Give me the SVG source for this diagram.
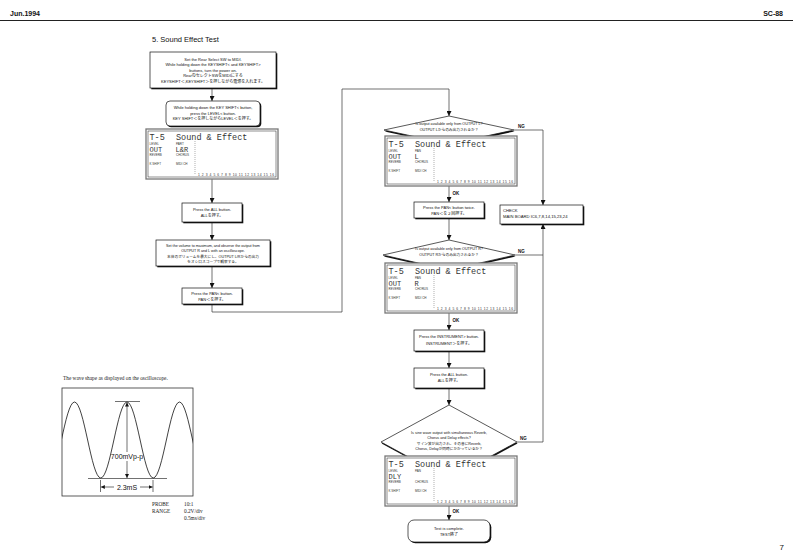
<svg xmlns="http://www.w3.org/2000/svg" width="793" height="560" viewBox="0 0 793 560">
<style>
.t{font-family:"Liberation Sans","Noto Sans CJK JP",sans-serif;font-size:4px;fill:#111;text-anchor:middle}
.ts{font-size:3.7px}
.lcd{font-family:"Liberation Mono","DejaVu Sans Mono",monospace;fill:#333}
.big{font-size:8.5px}
.mid{font-size:7px}
.sm{font-family:"Liberation Sans",sans-serif;font-size:3px;fill:#333}
.num{font-family:"Liberation Sans",sans-serif;font-size:3.3px;fill:#333}
.box{fill:#fff;stroke:#111;stroke-width:0.7}
.sh{fill:#111}
.lo{fill:#fff;stroke:#777;stroke-width:1.3}
.li{fill:none;stroke:#222;stroke-width:0.5}
.dot{stroke:#222;stroke-width:0.6;stroke-dasharray:0.6 1.4}
.c{fill:none;stroke:#333;stroke-width:0.7}
.lbl{font-family:"Liberation Sans",sans-serif;font-weight:bold;font-size:4.5px;fill:#111}
.hd{font-family:"Liberation Sans",sans-serif;font-weight:bold;font-size:7px;fill:#111}
.sf{font-family:"Liberation Serif",serif;font-size:5.3px;fill:#222}
.w{fill:none;stroke:#111;stroke-width:0.8}
</style>
<defs>
<marker id="ah" viewBox="0 0 10 10" refX="10" refY="5" markerWidth="5" markerHeight="5" markerUnits="userSpaceOnUse" orient="auto"><path d="M0,0 L10,5 L0,10 z" fill="#111"/></marker>
<marker id="wa" viewBox="0 0 10 10" refX="10" refY="5" markerWidth="4" markerHeight="4" markerUnits="userSpaceOnUse" orient="auto"><path d="M0,0 L10,5 L0,10 z" fill="#111"/></marker>
<clipPath id="scope"><rect x="62" y="388" width="131" height="108"/></clipPath>
</defs>
<rect width="793" height="560" fill="#fff"/>
<g id="header">
<text class="hd" x="10" y="16">Jun.1994</text>
<text class="hd" x="783" y="16" text-anchor="end">SC-88</text>
<line x1="0" y1="20.5" x2="793" y2="20.5" stroke="#222" stroke-width="1.2"/>
<text x="152" y="42" style="font-family:'Liberation Sans',sans-serif;font-size:7.5px;fill:#111">5. Sound Effect Test</text>
<text class="hd" x="784" y="550" text-anchor="end" style="font-weight:normal;font-size:8px">7</text>
</g>
<g id="connectors">
<path class="c" d="M212,88 V101" marker-end="url(#ah)"/>
<path class="c" d="M212,179 V203" marker-end="url(#ah)"/>
<path class="c" d="M212,222 V240" marker-end="url(#ah)"/>
<path class="c" d="M212,266 V288" marker-end="url(#ah)"/>
<path class="c" d="M212,304 V312 H342 V89 H449 V116" marker-end="url(#ah)"/>
<path class="c" d="M449,186 V202" marker-end="url(#ah)"/>
<path class="c" d="M449,218 V240" marker-end="url(#ah)"/>
<path class="c" d="M449,313 V330" marker-end="url(#ah)"/>
<path class="c" d="M449,351 V368" marker-end="url(#ah)"/>
<path class="c" d="M449,388 V405" marker-end="url(#ah)"/>
<path class="c" d="M449,506 V520" marker-end="url(#ah)"/>
<path class="c" d="M514,130 H543 V205" marker-end="url(#ah)"/>
<path class="c" d="M515,255 H543"/>
<path class="c" d="M517,442 H543 V224" marker-end="url(#ah)"/>
<text class="lbl" x="518" y="128">NG</text>
<text class="lbl" x="518" y="253">NG</text>
<text class="lbl" x="520" y="440">NG</text>
<text class="lbl" x="452.5" y="194.5">OK</text>
<text class="lbl" x="452.5" y="321.5">OK</text>
<text class="lbl" x="452.5" y="513">OK</text>
</g>
<g id="n1">
<rect class="sh" x="151.3" y="53.3" width="126" height="36"/>
<rect class="box" x="150" y="52" width="126" height="36"/>
<text class="t" x="213" y="60.5">Set the Rear Select SW to MIDI.</text>
<text class="t" x="213" y="66">While holding down the KEYSHIFT&lt; and KEYSHIFT&gt;</text>
<text class="t" x="213" y="71.5">buttons, turn the power on.</text>
<text class="t" x="213" y="77">RearのセレクトSWをMIDIにする</text>
<text class="t" x="213" y="82.5">KEYSHIFT＜,KEYSHIFT＞を押しながら電源を入れます。</text>
</g>
<g id="n2">
<rect class="sh" x="167.3" y="102.3" width="94" height="25" rx="4"/>
<rect class="box" x="166" y="101" width="94" height="25" rx="4"/>
<text class="t" x="213" y="109">While holding down the KEY SHIFT&lt; button,</text>
<text class="t" x="213" y="114.5">press the LEVEL&lt; button.</text>
<text class="t" x="213" y="120">KEY SHIFT＜を押しながらLEVEL＜を押す。</text>
</g>
<g id="lcd1" transform="translate(146,129)">
<rect class="lo" x="0" y="0" width="132" height="50"/>
<rect class="li" x="2" y="2" width="128" height="46"/>
<text class="lcd big" x="3.5" y="10.5">T-5</text>
<text class="lcd big" x="30" y="10.5">Sound &amp; Effect</text>
<text class="sm" x="3.5" y="15.8">LEVEL</text>
<text class="sm" x="30" y="15.8">PART</text>
<text class="lcd mid" x="3.5" y="22.8">OUT</text>
<text class="lcd mid" x="29.5" y="22.8">L&amp;R</text>
<text class="sm" x="3.5" y="27.2">REVERB</text>
<text class="sm" x="30" y="27.2">CHORUS</text>
<text class="sm" x="3.5" y="35.5">K SHIFT</text>
<text class="sm" x="30" y="35.5">MIDI CH</text>
<line class="dot" x1="49" y1="12" x2="49" y2="45"/>
<text class="num" x="52" y="47" textLength="76" lengthAdjust="spacing">1 2 3 4 5 6 7 8 9 10 11 12 13 14 15 16</text>
</g>
<g id="n3">
<rect class="sh" x="183.3" y="204.3" width="60" height="19"/>
<rect class="box" x="182" y="203" width="60" height="19"/>
<text class="t" x="212" y="211">Press the ALL button.</text>
<text class="t" x="212" y="217">ALLを押す。</text>
</g>
<g id="n4">
<rect class="sh" x="157.3" y="241.3" width="114" height="26"/>
<rect class="box" x="156" y="240" width="114" height="26"/>
<text class="t ts" x="213" y="246.5">Set the volume to maximum, and observe the output from</text>
<text class="t ts" x="213" y="252">OUTPUT R and L with an oscilloscope.</text>
<text class="t ts" x="213" y="257.5">本体のボリュームを最大にし、OUTPUT L/Rからの出力</text>
<text class="t ts" x="213" y="263">をオシロスコープで観察する。</text>
</g>
<g id="n5">
<rect class="sh" x="183.3" y="289.3" width="60" height="16"/>
<rect class="box" x="182" y="288" width="60" height="16"/>
<text class="t" x="212" y="294.5">Press the PAN&lt; button.</text>
<text class="t" x="212" y="300.5">PAN＜を押す。</text>
</g>
<g id="d1">
<polygon class="sh" points="449,116 514,130 449,144 384,130" transform="translate(0.6,1.4)"/>
<polygon class="box" points="449,116 514,130 449,144 384,130"/>
<text class="t ts" x="449" y="125">Is output available only from OUTPUT L?</text>
<text class="t ts" x="449" y="131">OUTPUT Lからのみ出力されるか？</text>
</g>
<g id="lcd2" transform="translate(385,136)">
<rect class="lo" x="0" y="0" width="132" height="50"/>
<rect class="li" x="2" y="2" width="128" height="46"/>
<text class="lcd big" x="3.5" y="10.5">T-5</text>
<text class="lcd big" x="30" y="10.5">Sound &amp; Effect</text>
<text class="sm" x="3.5" y="15.8">LEVEL</text>
<text class="sm" x="30" y="15.8">PAN</text>
<text class="lcd mid" x="3.5" y="22.8">OUT</text>
<text class="lcd mid" x="29.5" y="22.8">L</text>
<text class="sm" x="3.5" y="27.2">REVERB</text>
<text class="sm" x="30" y="27.2">CHORUS</text>
<text class="sm" x="3.5" y="35.5">K SHIFT</text>
<text class="sm" x="30" y="35.5">MIDI CH</text>
<line class="dot" x1="49" y1="12" x2="49" y2="45"/>
<text class="num" x="52" y="47" textLength="76" lengthAdjust="spacing">1 2 3 4 5 6 7 8 9 10 11 12 13 14 15 16</text>
</g>
<g id="n6">
<rect class="sh" x="415.3" y="203.3" width="70" height="16"/>
<rect class="box" x="414" y="202" width="70" height="16"/>
<text class="t" x="449" y="208.5">Press the PAN&lt; button twice.</text>
<text class="t" x="449" y="214.5">PAN＜を２回押す。</text>
</g>
<g id="d2">
<polygon class="sh" points="449,240 515,255 449,270 383,255" transform="translate(0.6,1.4)"/>
<polygon class="box" points="449,240 515,255 449,270 383,255"/>
<text class="t ts" x="449" y="249.5">Is output available only from OUTPUT R?</text>
<text class="t ts" x="449" y="255.5">OUTPUT Rからのみ出力されるか？</text>
</g>
<g id="lcd3" transform="translate(385,263)">
<rect class="lo" x="0" y="0" width="132" height="50"/>
<rect class="li" x="2" y="2" width="128" height="46"/>
<text class="lcd big" x="3.5" y="10.5">T-5</text>
<text class="lcd big" x="30" y="10.5">Sound &amp; Effect</text>
<text class="sm" x="3.5" y="15.8">LEVEL</text>
<text class="sm" x="30" y="15.8">PAN</text>
<text class="lcd mid" x="3.5" y="22.8">OUT</text>
<text class="lcd mid" x="29.5" y="22.8">R</text>
<text class="sm" x="3.5" y="27.2">REVERB</text>
<text class="sm" x="30" y="27.2">CHORUS</text>
<text class="sm" x="3.5" y="35.5">K SHIFT</text>
<text class="sm" x="30" y="35.5">MIDI CH</text>
<line class="dot" x1="49" y1="12" x2="49" y2="45"/>
<text class="num" x="52" y="47" textLength="76" lengthAdjust="spacing">1 2 3 4 5 6 7 8 9 10 11 12 13 14 15 16</text>
</g>
<g id="n7">
<rect class="sh" x="415.3" y="331.3" width="70" height="21"/>
<rect class="box" x="414" y="330" width="70" height="21"/>
<text class="t" x="449" y="338">Press the INSTRUMENT&gt; button.</text>
<text class="t" x="449" y="344.5">INSTRUMENT＞を押す。</text>
</g>
<g id="n8">
<rect class="sh" x="415.3" y="369.3" width="70" height="20"/>
<rect class="box" x="414" y="368" width="70" height="20"/>
<text class="t" x="449" y="376">Press the ALL button.</text>
<text class="t" x="449" y="382">ALLを押す。</text>
</g>
<g id="d3">
<polygon class="sh" points="449,405 517,442 449,479 381,442" transform="translate(0.6,1.4)"/>
<polygon class="box" points="449,405 517,442 449,479 381,442"/>
<text class="t ts" x="449" y="433.5">Is sine wave output with simultaneous Reverb,</text>
<text class="t ts" x="449" y="439">Chorus and Delay effects?</text>
<text class="t ts" x="449" y="444.5">サイン波が出力され、その音にReverb,</text>
<text class="t ts" x="449" y="450">Chorus, Delayが同時にかかっているか？</text>
</g>
<g id="lcd4" transform="translate(385,456)">
<rect class="lo" x="0" y="0" width="132" height="50"/>
<rect class="li" x="2" y="2" width="128" height="46"/>
<text class="lcd big" x="3.5" y="10.5">T-5</text>
<text class="lcd big" x="30" y="10.5">Sound &amp; Effect</text>
<text class="sm" x="3.5" y="15.8">LEVEL</text>
<text class="sm" x="30" y="15.8">PAN</text>
<text class="lcd mid" x="3.5" y="22.8">DLY</text>
<text class="sm" x="3.5" y="27.2">REVERB</text>
<text class="sm" x="30" y="27.2">CHORUS</text>
<text class="sm" x="3.5" y="35.5">K SHIFT</text>
<text class="sm" x="30" y="35.5">MIDI CH</text>
<line class="dot" x1="49" y1="12" x2="49" y2="45"/>
<text class="num" x="52" y="47" textLength="76" lengthAdjust="spacing">1 2 3 4 5 6 7 8 9 10 11 12 13 14 15 16</text>
</g>
<g id="n9">
<rect class="sh" x="409.3" y="521.3" width="82" height="22" rx="6"/>
<rect class="box" x="408" y="520" width="82" height="22" rx="6"/>
<text class="t" x="449" y="529.5">Test is complete.</text>
<text class="t" x="449" y="535.5">TEST終了</text>
</g>
<g id="check">
<rect class="sh" x="501.3" y="206.3" width="83" height="19"/>
<rect class="box" x="500" y="205" width="83" height="19"/>
<text class="t" x="503" y="211.5" style="text-anchor:start;font-size:4.2px">CHECK</text>
<text class="t" x="503" y="218" style="text-anchor:start;font-size:4.2px">MAIN BOARD IC6,7,8,14,15,23,24</text>
</g>
<g id="waveform">
<text class="sf" x="63" y="380">The wave shape as displayed on the oscilloscope.</text>
<rect x="62" y="388" width="131" height="108" fill="none" stroke="#333" stroke-width="0.8"/>
<path class="w" clip-path="url(#scope)" d="M48.25,478 C57.79,478 64.96,402 74.5,402 C84.04,402 91.21,478 100.75,478 C110.29,478 117.46,402 127,402 C136.54,402 143.71,478 153.25,478 C162.79,478 169.96,402 179.5,402 C189.04,402 196.21,478 205.75,478"/>
<line x1="115" y1="401.5" x2="140" y2="401.5" stroke="#111" stroke-width="0.6"/>
<line x1="88" y1="478.5" x2="167" y2="478.5" stroke="#111" stroke-width="0.6"/>
<path class="c" d="M127,452 V402.5" marker-end="url(#wa)"/>
<path class="c" d="M127,461 V478" marker-end="url(#wa)"/>
<text x="127" y="459" text-anchor="middle" style="font-family:'Liberation Sans',sans-serif;font-size:7px;fill:#111">700mVp-p</text>
<line x1="100.5" y1="480" x2="100.5" y2="492" stroke="#111" stroke-width="0.6"/>
<line x1="153" y1="480" x2="153" y2="492" stroke="#111" stroke-width="0.6"/>
<path class="c" d="M114,487 H100.8" marker-end="url(#wa)"/>
<path class="c" d="M140,487 H152.7" marker-end="url(#wa)"/>
<text x="127" y="489.5" text-anchor="middle" style="font-family:'Liberation Sans',sans-serif;font-size:7px;fill:#111">2.3mS</text>
<text class="sf" x="152" y="506">PROBE</text>
<text class="sf" x="184" y="506">10:1</text>
<text class="sf" x="152" y="513">RANGE</text>
<text class="sf" x="184" y="513">0.2V/div</text>
<text class="sf" x="184" y="520">0.5ms/div</text>
</g>
</svg>
